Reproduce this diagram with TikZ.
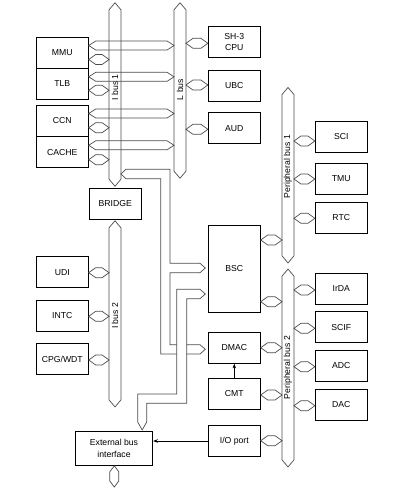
\documentclass[tikz,border=0pt]{standalone}
\usepackage{fontspec}
\setmainfont{Liberation Sans}
\usetikzlibrary{arrows.meta,calc,fit}

% two-way bus link from the right side of #2 to the left side of #3, at height #4
\newcommand{\hlink}[4][5]{%
  \draw[bus] (#2.east |- 0,#4) -- ++(7,-#1) -- ($(#3.west |- 0,#4)+(-7,-#1)$)
    -- (#3.west |- 0,#4) -- ++(-7,#1) -- ($(#2.east |- 0,#4)+(7,#1)$) -- cycle;}
% vertical bus drawn round the shaft node #1
\newcommand{\vbus}[1]{%
  \draw[bus] (#1.north) -- ($(#1.north east)+(0,7)$) -- ($(#1.south east)+(0,-7)$)
    -- (#1.south) -- ($(#1.south west)+(0,-7)$) -- ($(#1.north west)+(0,7)$) -- cycle;}

\begin{document}
\begin{tikzpicture}[x=0.3mm, y=-0.3mm,
    box/.style={draw, line width=0.7pt, minimum width=15.6mm, minimum height=9.3mm, inner sep=1pt, align=center, font=\fontsize{7.4}{9.8}\selectfont},
    shaft/.style={inner sep=0pt},
    bus/.style={draw=black!70, line width=0.6pt, line join=miter},
    buslabel/.style={rotate=90, inner sep=0pt, font=\fontsize{7.4}{9}\selectfont},
    arr/.style={-{Stealth[length=4pt, width=3pt]}, line width=0.6pt}
]
\useasboundingbox (0,0) rectangle (408,489);

% left column
\node[box] (mmu) at (62.3,52.8) {MMU};
\node[box] (tlb) at (62.3,83.8) {TLB};
\node[box] (ccn) at (62.3,120.8) {CCN};
\node[box] (cache) at (62.3,152.2) {CACHE};
\node[box] (bridge) at (115.3,203.8) {BRIDGE};
\node[box] (udi) at (62.3,272.3) {UDI};
\node[box] (intc) at (62.3,315.8) {INTC};
\node[box] (cpg) at (62.3,359.3) {CPG/WDT};
\node[box, minimum width=23.2mm, minimum height=10.3mm] (ebi) at (114,448.2) {External bus\\interface};

% middle column
\node[box] (cpu) at (234.3,41.8) {SH-3\\CPU};
\node[box] (ubc) at (234.3,85.7) {UBC};
\node[box] (aud) at (234.3,128.2) {AUD};
\node[box, minimum height=26mm] (bsc) at (234.3,268.9) {BSC};
\node[box] (dmac) at (234.3,347.8) {DMAC};
\node[box] (cmt) at (234.3,394) {CMT};
\node[box] (ioport) at (234.3,441) {I/O port};

% right column
\node[box] (sci) at (341.3,136.8) {SCI};
\node[box] (tmu) at (341.3,178.7) {TMU};
\node[box] (rtc) at (341.3,217.8) {RTC};
\node[box] (irda) at (341.3,288.8) {IrDA};
\node[box] (scif) at (341.3,327.3) {SCIF};
\node[box] (adc) at (341.3,365.8) {ADC};
\node[box] (dac) at (341.3,404.8) {DAC};

% buses
\node[shaft, fit={(109.3,3) (120.7,186)}] (ibusA) {};
\node[shaft, fit={(174.3,3) (185.7,178)}] (lbus) {};
\node[shaft, fit={(282.3,87.7) (293.7,262.7)}] (pbusA) {};
\node[shaft, fit={(282.3,269.3) (293.7,466.7)}] (pbusB) {};
\node[shaft, fit={(109.3,221) (120.7,406.7)}] (ibusB) {};
\vbus{ibusA}
\vbus{lbus}
\vbus{pbusA}
\vbus{pbusB}
\vbus{ibusB}
\node[buslabel] (ibusAlab) at (115,87.3) {I bus 1};
\node[buslabel] (lbuslab) at (180,89.5) {L bus};
\node[buslabel] (pbusAlab) at (288,166.7) {Peripheral bus 1};
\node[buslabel] (pbusBlab) at (288,367.5) {Peripheral bus 2};
\node[buslabel] (ibusBlab) at (115,315.8) {I bus 2};

% links to I bus 1 and L bus
\hlink[4.5]{mmu}{lbus}{45.5}
\hlink[4.5]{tlb}{lbus}{76.8}
\hlink[4.5]{ccn}{lbus}{113.5}
\hlink[4.5]{cache}{lbus}{145.3}
\hlink{mmu}{ibusA}{59.5}
\hlink{tlb}{ibusA}{90.3}
\hlink{ccn}{ibusA}{127.7}
\hlink{cache}{ibusA}{159.7}
\hlink{lbus}{cpu}{43.3}
\hlink{lbus}{ubc}{85}
\hlink{lbus}{aud}{129.3}

% peripheral buses
\hlink{pbusA}{sci}{141}
\hlink{pbusA}{tmu}{179}
\hlink{pbusA}{rtc}{218.3}
\hlink{bsc}{pbusA}{240}
\hlink{bsc}{pbusB}{301.7}
\hlink{pbusB}{irda}{290}
\hlink{pbusB}{scif}{328.3}
\hlink{pbusB}{adc}{366.7}
\hlink{pbusB}{dac}{405.7}
\hlink{dmac}{pbusB}{347.7}
\hlink{cmt}{pbusB}{395}
\hlink{ioport}{pbusB}{440.7}

% I bus 2
\hlink{udi}{ibusB}{272.7}
\hlink{intc}{ibusB}{316.3}
\hlink{cpg}{ibusB}{360}

% I bus 1 to BSC and DMAC
\draw[bus] (ibusA.east |- 0,174) -- ++(5,-4.7) -- (170,169.3) -- (170,263.3) -- (200,263.3)
  -- (205.3,268) -- (200,272.7) -- (170,272.7) -- (170,344.7) -- (200,344.7)
  -- (205.3,349.3) -- (200,354) -- (160.7,354) -- (160.7,178.7)
  -- ($(ibusA.east |- 0,174)+(5,4.7)$) -- cycle;
% BSC to external bus interface
\draw[bus, fill=white] (205.3,294) -- (200,289.3) -- (176.7,289.3) -- (176.7,394) -- (137.7,394)
  -- (137.7,422) -- (142.2,430) -- (146.7,422) -- (146.7,403.3) -- (186.7,403.3)
  -- (186.7,298.7) -- (200,298.7) -- cycle;

% external side of the bus interface
\coordinate (ext) at (114.3,487);
\draw[bus] (ebi.south -| ext) -- ++(4.5,6) -- ($(ext)+(4.5,-6)$) -- (ext) -- ++(-4.5,-6)
  -- ($(ebi.south -| ext)+(-4.5,6)$) -- cycle;

\draw[arr] (cmt.north) -- (dmac.south);
\draw[arr] (ioport.west) -- (ioport.west -| ebi.east);
\end{tikzpicture}
\end{document}
